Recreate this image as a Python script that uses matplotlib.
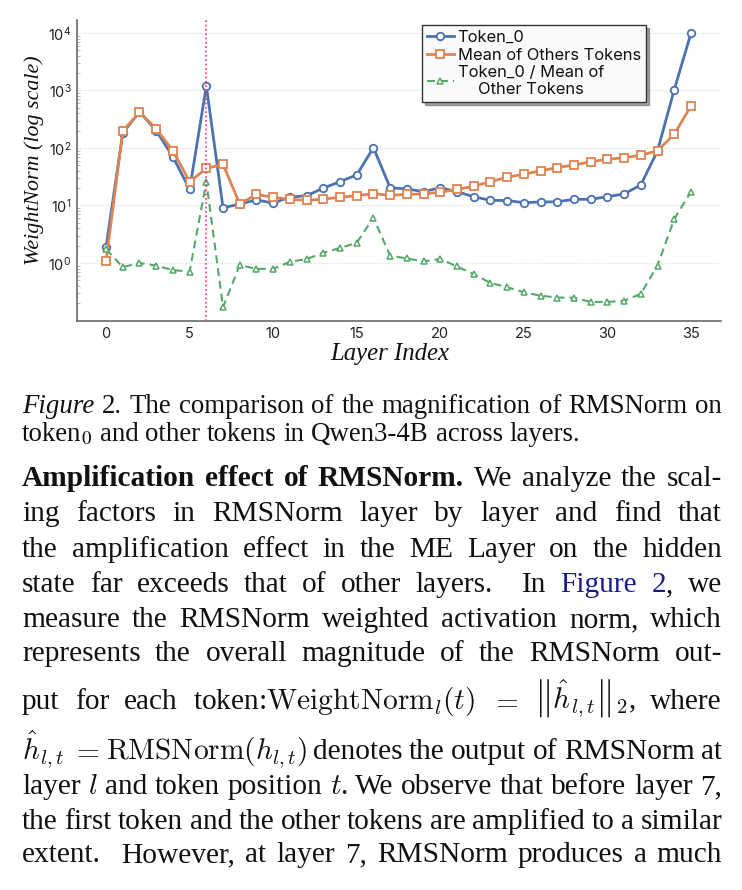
import matplotlib
matplotlib.use("Agg")
import matplotlib.pyplot as plt

# ---------------- data ----------------
layers = list(range(36))
token0 = [1.9, 182, 427, 200, 70, 19, 1200, 9.1, 10.6, 12.5, 11.0, 14.0, 14.8, 20, 26, 34,
          101, 20.4, 19.4, 17.4, 20.4, 17.4, 14.2, 12.3, 12.2, 11.2, 11.5, 11.6, 12.8, 12.8,
          14.2, 15.9, 22.7, 89, 1030, 9800]
mean_others = [1.08, 198, 417, 217, 89, 26, 44, 52, 10.6, 15.6, 13.9, 12.8, 12.3, 12.9, 13.9,
               14.8, 16.1, 15.0, 15.6, 15.9, 17.0, 19.1, 21.6, 26, 31, 35, 40, 45.5, 50.6, 57.6,
               63.5, 67.6, 75, 89.6, 173, 537]
ratio = [1.73, 0.85, 1.0, 0.9, 0.75, 0.71, 26, 0.17, 0.92, 0.79, 0.79, 1.05, 1.17, 1.51, 1.82,
         2.25, 6.1, 1.34, 1.2, 1.07, 1.17, 0.87, 0.64, 0.45, 0.38, 0.31, 0.27, 0.25, 0.25, 0.21,
         0.21, 0.22, 0.29, 0.9, 5.8, 17.4]
series_labels = ["Token_0", "Mean of Others Tokens", "Token_0 / Mean of\nOther Tokens"]
me_layer = 6
xticks = [0, 5, 10, 15, 20, 25, 30, 35]
yticks = [1, 10, 100, 1000, 10000]

W, H = 742, 890
fig = plt.figure(figsize=(W / 100, H / 100), dpi=100)
renderer = fig.canvas.get_renderer()

# ---------------- chart ----------------
ax = fig.add_axes([77 / W, 1 - 321 / H, 644 / W, 301 / H])
ax.set_yscale("log")
blue, orange, green = "#4C72B0", "#DD8452", "#55A868"
ax.plot(layers, token0, color=blue, lw=2.0, marker="o", ms=5.4, mfc="white", mec=blue,
        mew=1.3, label=series_labels[0], zorder=3)
ax.plot(layers, mean_others, color=orange, lw=2.0, marker="s", ms=5.4, mfc="white", mec=orange,
        mew=1.3, label=series_labels[1], zorder=4)
ax.plot(layers, ratio, color=green, lw=1.5, ls=(0, (3.8, 2.4)), marker="^", ms=4.8, mfc="white",
        mec=green, mew=1.1, label=series_labels[2], zorder=5)
ax.axvline(me_layer, color="#E8336D", ls=(0, (1, 1.6)), lw=1.2, zorder=6)

ax.set_xlim(-1.74, 36.8)
ax.set_ylim(10 ** -1.009, 10 ** 4.226)
ax.set_xticks(xticks)
ax.set_yticks(yticks)
ax.yaxis.set_minor_locator(matplotlib.ticker.LogLocator(base=10, subs=range(2, 10), numticks=20))
ax.yaxis.set_minor_formatter(matplotlib.ticker.NullFormatter())
ax.grid(axis="y", which="major", color="#d9d9d9", ls=(0, (1, 1.5)), lw=0.8)
ax.set_axisbelow(True)
for s in ["top", "right"]:
    ax.spines[s].set_visible(False)
for s in ["left", "bottom"]:
    ax.spines[s].set_color("#6a6a6a")
    ax.spines[s].set_linewidth(1.2)
ax.tick_params(axis="both", which="major", length=0, labelsize=10.5, labelcolor="#222222", pad=4)
ax.tick_params(axis="y", which="minor", length=2, width=0.5, color="#9a9a9a", direction="in")
for lab in ax.get_xticklabels() + ax.get_yticklabels():
    lab.set_fontfamily("Inter")

ax.set_ylabel("WeightNorm (log scale)", fontfamily="Liberation Serif", style="italic",
              fontsize=15.8, color="#111111")
ax.yaxis.set_label_coords(-0.051, 0.535)
ax.set_xlabel("Layer Index", fontfamily="Liberation Serif", style="italic", fontsize=17.8,
              color="#111111")
ax.xaxis.set_label_coords(0.486, -0.072)

leg = ax.legend(loc="upper left", bbox_to_anchor=(0.536, 0.983), prop={"family": "Inter", "size": 11.9},
                frameon=True, fancybox=False, shadow=True, edgecolor="#333333", facecolor="#fafafa",
                framealpha=1, handlelength=1.6, handletextpad=0.25, borderpad=0.3,
                labelspacing=0.15, borderaxespad=0)
leg.get_frame().set_linewidth(1.0)
for t in leg.get_texts():
    t.set_multialignment("center")
    t.set_color("#111111")

# ---------------- text ----------------
def fx(x):
    return x / W

def fy(y):
    return 1 - y / H

BASE = dict(fontfamily="Liberation Serif", math_fontfamily="cm", color="#111111")

def put_line(words, ybase, size, justify=True, x0=22, x1=722):
    placed = []
    widths = []
    for w in words:
        if isinstance(w, str):
            w = [(w, {})]
        segs = []
        tot = 0
        for s, kw in w:
            props = dict(BASE)
            props.update(kw)
            t = fig.text(0, fy(ybase), s, va="baseline", ha="left", fontsize=size, **props)
            wd = t.get_window_extent(renderer).width
            segs.append((t, wd))
            tot += wd
        placed.append(segs)
        widths.append(tot)
    if justify and len(words) > 1:
        gap = (x1 - x0 - sum(widths)) / (len(words) - 1)
    else:
        gap = 0.25 * size * 100 / 72
    x = x0
    for segs in placed:
        for t, wd in segs:
            t.set_x(fx(x))
            x += wd
        x += gap

CAP = 19.4
put_line([[("Figure", {"style": "italic"})], "2.", *"The comparison of the magnification of RMSNorm on".split()],
         413, CAP)
put_line([[("token", {}), (r"$_{\mathrm{0}}$", {"math_fontfamily": "stix"})],
          *"and other tokens in Qwen3-4B across layers.".split()], 441, CAP, justify=False)

BODY = 21.2
B = {"fontweight": "bold"}
link = "#1a1a8c"
body = [
    ([[("Amplification", B)], [("effect", B)], [("of", B)], [("RMSNorm.", B)],
      *"We analyze the scal-".split()], 486),
    ("ing factors in RMSNorm layer by layer and find that".split(), 521),
    ("the amplification effect in the ME Layer on the hidden".split(), 557),
    ([*"state far exceeds that of other layers.".split(), "", "In", [("Figure", {"color": link})],
      [("2", {"color": link}), (",", {})], "we"], 592),
    ("measure the RMSNorm weighted activation norm, which".split(), 627),
    ("represents the overall magnitude of the RMSNorm out-".split(), 661),
    (["put", "for", "each", r"token:$\mathrm{WeightNorm}_l(t)$", r"$=$",
      r"$\left\Vert\hat{h}_{l,t}\right\Vert_2$,", "where"], 709),
    ([r"$\hat{h}_{l,t}$", r"$=$", r"$\mathrm{RMSNorm}(h_{l,t})$",
      *"denotes the output of RMSNorm at".split()], 759),
    (["layer", r"$l$", "and", "token", "position", r"$t$.", *"We observe that before layer 7,".split()], 794),
    ("the first token and the other tokens are amplified to a similar".split(), 829),
    ([*"extent.".split(), "", *"However, at layer 7, RMSNorm produces a much".split()], 862),
]
for words, yb in body:
    put_line(words, yb, BODY)

fig.savefig("out.png", dpi=100)
